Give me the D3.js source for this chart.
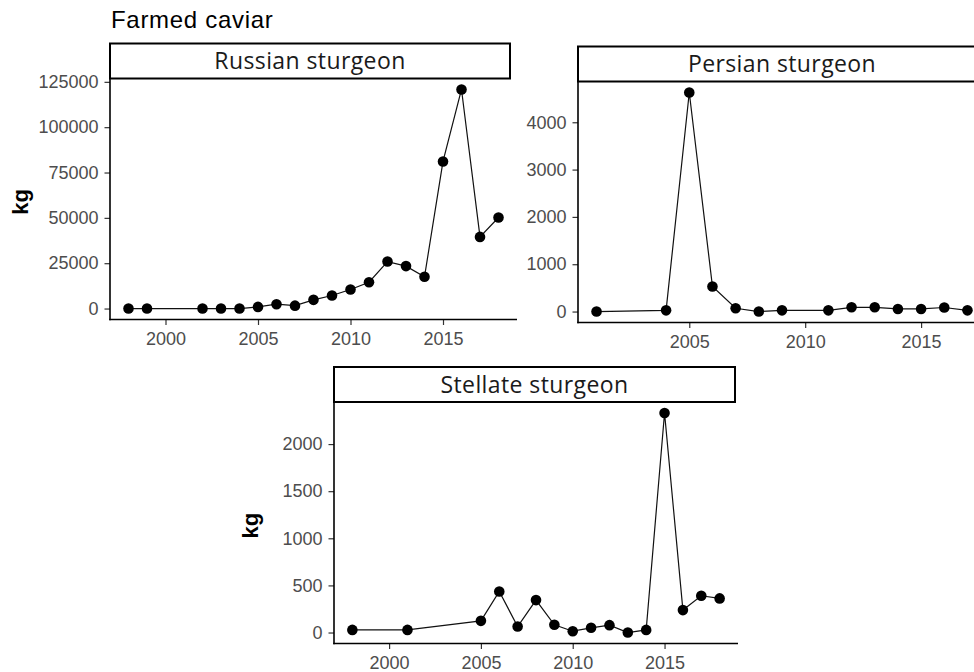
<!DOCTYPE html>
<html>
<head>
<meta charset="utf-8">
<script src="https://cdn.jsdelivr.net/npm/d3@7"></script>
<style>
    body { margin: 0; background: #fff; }
    svg { display: block; }
</style>
</head>
<body>
<div id="chart"></div>
<script>
var width = 974;
var height = 672;

var russianYears = [1998, 1999, 2002, 2003, 2004, 2005, 2006, 2007, 2008, 2009, 2010, 2011, 2012, 2013, 2014, 2015, 2016, 2017, 2018];
var russianKg = [0, 0, 0, 0, 0, 900, 2400, 1600, 4800, 7200, 10500, 14500, 25900, 23400, 17500, 81100, 120800, 39500, 50200];

var persianYears = [2001, 2004, 2005, 2006, 2007, 2008, 2009, 2011, 2012, 2013, 2014, 2015, 2016, 2017];
var persianKg = [0, 25, 4630, 530, 70, 0, 25, 25, 90, 90, 55, 55, 85, 25];

var stellateYears = [1998, 2001, 2005, 2006, 2007, 2008, 2009, 2010, 2011, 2012, 2013, 2014, 2015, 2016, 2017, 2018];
var stellateKg = [28, 28, 124, 436, 64, 344, 82, 14, 50, 78, 0, 28, 2330, 238, 390, 362];

var xTicks = [2000, 2005, 2010, 2015];
var russianTicks = [0, 25000, 50000, 75000, 100000, 125000];
var persianTicks = [0, 1000, 2000, 3000, 4000];
var stellateTicks = [0, 500, 1000, 1500, 2000];

var tickFont = '"Liberation Sans", Arial, sans-serif';
var stripFont = '"Open Sans", "Noto Sans", sans-serif';

var svg = d3.select("#chart")
    .append("svg")
    .attr("width", width)
    .attr("height", height);

svg.append("text")
    .attr("x", 111)
    .attr("y", 27.5)
    .attr("font-family", tickFont)
    .attr("font-size", 24)
    .attr("letter-spacing", 0.7)
    .attr("fill", "#000")
    .text("Farmed caviar");

// one facet panel: strip on top, axes left and bottom
function drawPanel(p) {
    var g = svg.append("g");
    var stripH = 35;
    var panelTop = p.top + stripH;

    var data = p.years.map(function (y, i) { return { year: y, kg: p.kg[i] }; });

    var xExt = d3.extent(p.years);
    var xPad = (xExt[1] - xExt[0]) * 0.05;
    var x = d3.scaleLinear()
        .domain([xExt[0] - xPad, xExt[1] + xPad])
        .range([p.left, p.left + p.w]);

    var yMax = d3.max(p.kg);
    var yPad = yMax * 0.05;
    var y = d3.scaleLinear()
        .domain([-yPad, yMax + yPad])
        .range([p.bottom, panelTop]);

    // y axis
    var yAxis = d3.axisLeft(y)
        .tickValues(p.yTicks)
        .tickSize(5.5)
        .tickPadding(6)
        .tickFormat(d3.format("d"));
    var ya = g.append("g")
        .attr("transform", "translate(" + p.left + ",0)")
        .call(yAxis);
    ya.select(".domain").remove();
    ya.selectAll("line").attr("stroke", "#333").attr("stroke-width", 1.2);
    ya.selectAll("text")
        .attr("font-family", tickFont)
        .attr("font-size", 18)
        .attr("fill", "#4d4d4d");

    // x axis
    var xAxis = d3.axisBottom(x)
        .tickValues(xTicks.filter(function (t) { return t >= x.domain()[0] && t <= x.domain()[1]; }))
        .tickSize(5.5)
        .tickPadding(7)
        .tickFormat(d3.format("d"));
    var xa = g.append("g")
        .attr("transform", "translate(0," + p.bottom + ")")
        .call(xAxis);
    xa.select(".domain").remove();
    xa.selectAll("line").attr("stroke", "#333").attr("stroke-width", 1.2);
    xa.selectAll("text")
        .attr("font-family", tickFont)
        .attr("font-size", 18)
        .attr("fill", "#4d4d4d");

    // axis lines
    g.append("line")
        .attr("x1", p.left).attr("x2", p.left)
        .attr("y1", panelTop).attr("y2", p.bottom + 0.75)
        .attr("stroke", "#000").attr("stroke-width", 1.6);
    g.append("line")
        .attr("x1", p.left - 0.75).attr("x2", p.left + p.w)
        .attr("y1", p.bottom).attr("y2", p.bottom)
        .attr("stroke", "#000").attr("stroke-width", 1.6);

    // line and points
    var line = d3.line()
        .x(function (d) { return x(d.year); })
        .y(function (d) { return y(d.kg); });

    g.append("path")
        .datum(data)
        .attr("d", line)
        .attr("fill", "none")
        .attr("stroke", "#111")
        .attr("stroke-width", 1.2);

    g.selectAll("circle")
        .data(data)
        .enter()
        .append("circle")
        .attr("cx", function (d) { return x(d.year); })
        .attr("cy", function (d) { return y(d.kg); })
        .attr("r", 5.3)
        .attr("fill", "#000");

    // strip
    g.append("rect")
        .attr("x", p.left)
        .attr("y", p.top)
        .attr("width", p.stripW)
        .attr("height", stripH)
        .attr("fill", "#fff")
        .attr("stroke", "#000")
        .attr("stroke-width", 2);

    g.append("text")
        .attr("x", p.left + p.stripW / 2)
        .attr("y", p.top + 25.5)
        .attr("text-anchor", "middle")
        .attr("font-family", stripFont)
        .attr("font-size", 23)
        .attr("letter-spacing", 0.4)
        .attr("fill", "#1a1a1a")
        .text(p.name);

    if (p.ylab) {
        svg.append("text")
            .attr("transform", "translate(" + p.ylabX + "," + ((panelTop + p.bottom) / 2 + 3) + ") rotate(-90)")
            .attr("text-anchor", "middle")
            .attr("font-family", tickFont)
            .attr("font-weight", "bold")
            .attr("font-size", 22)
            .attr("fill", "#000")
            .text("kg");
    }
}

drawPanel({ name: "Russian sturgeon", years: russianYears, kg: russianKg, yTicks: russianTicks,
    left: 110, w: 407, stripW: 400, top: 43.5, bottom: 319.5, ylab: true, ylabX: 28 });
drawPanel({ name: "Persian sturgeon", years: persianYears, kg: persianKg, yTicks: persianTicks,
    left: 578, w: 408, stripW: 408, top: 46.5, bottom: 322.5, ylab: false });
drawPanel({ name: "Stellate sturgeon", years: stellateYears, kg: stellateKg, yTicks: stellateTicks,
    left: 334, w: 404, stripW: 401, top: 367, bottom: 643.5, ylab: true, ylabX: 258 });
</script>
</body>
</html>
